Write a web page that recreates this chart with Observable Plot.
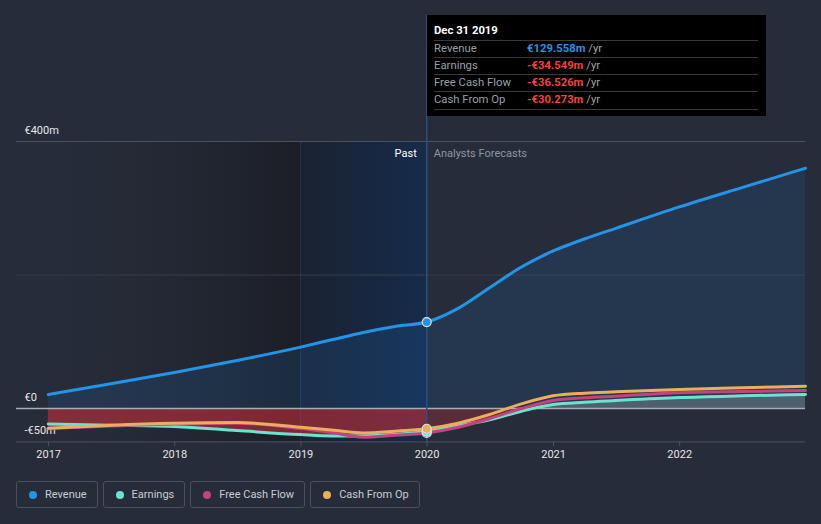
<!DOCTYPE html>
<html>
<head>
<meta charset="utf-8">
<script src="https://cdn.jsdelivr.net/npm/d3@7"></script>
<script src="https://cdn.jsdelivr.net/npm/@observablehq/plot@0.6"></script>
<style>
  html, body { margin: 0; padding: 0; background: #262c39; }
  body { font-family: Roboto, "Open Sans", sans-serif; }
  #wrap { position: relative; width: 821px; height: 524px; overflow: hidden; }
  #tip { position: absolute; left: 427px; top: 15px; width: 339px; height: 101px; background: #000; color: #fff; font-size: 11.3px; }
  #tip .title { position: absolute; left: 7px; top: 9px; line-height: 14px; font-weight: bold; }
  #tip .row { position: absolute; left: 7px; width: 324px; height: 17px; border-top: 1px solid #3a3a3a; line-height: 16px; color: #9aa0a6; }
  #tip .row.last { border-bottom: 1px solid #3a3a3a; }
  #tip .val { position: absolute; left: 93px; top: 0; font-weight: bold; }
  #tip .unit { color: #a0a4aa; font-weight: normal; }
  #legend { position: absolute; left: 16px; top: 481px; display: flex; gap: 5px; }
  .item { box-sizing: border-box; height: 27px; border: 1px solid #4a5060; border-radius: 3px; padding: 0 10px 0 12px; display: flex; align-items: center; color: #c9cdd3; font-size: 11px; }
  .dot { width: 8px; height: 8px; border-radius: 50%; margin-right: 8px; }
</style>
</head>
<body>
<div id="wrap"></div>
<script>
// ---- data ----
const dates = ["2016-12-31","2017-06-30","2017-12-31","2018-06-30","2018-12-31","2019-03-31","2019-06-30","2019-09-30","2019-12-31",
               "2020-03-31","2020-06-30","2020-09-30","2020-12-31","2021-03-31","2021-06-30","2021-12-31","2022-06-30","2022-12-31"];
const revenue  = [21, 37, 54, 72, 92, 103, 114, 123, 129.558, 150, 181, 212, 236, 254, 270, 302, 331, 360];
const earnings = [-23, -25, -27, -33, -39, -41, -41, -39, -34.549, -26, -17, -4, 6, 9.5, 12, 16.5, 19, 21];
const fcf      = [-30, -26, -23, -22, -30, -36, -43, -40, -36.526, -28, -15, 0, 12, 16, 18.5, 23.5, 25.5, 27];
const cfo      = [-29.5, -25, -22, -21, -28, -32, -36.5, -34, -30.273, -22, -9, 7, 19, 23, 25, 28.5, 31, 33.5];
const pastEndIndex = 8;
const yTicks = [400, 0, -50];
const yTickLabels = ["€400m", "€0", "-€50m"];
const xTickYears = [2017, 2018, 2019, 2020, 2021, 2022];
const seriesNames = ["Revenue", "Earnings", "Free Cash Flow", "Cash From Op"];
const seriesColors = ["#2394e6", "#6be3d0", "#c4437f", "#eaae5c"];
const tipTitle = "Dec 31 2019";
const tipValues = ["€129.558m", "-€34.549m", "-€36.526m", "-€30.273m"];

// ---- build ----
const parse = d3.utcParse("%Y-%m-%d");
const rows = dates.map((d, i) => ({date: parse(d), revenue: revenue[i], earnings: earnings[i], fcf: fcf[i], cfo: cfo[i]}));
const past = rows.slice(0, pastEndIndex + 1);
const fut = rows.slice(pastEndIndex);
const xStart = parse("2016-09-30"), xEnd = parse("2022-12-31");
const pastStart = parse("2018-12-31"), nowDate = parse("2019-12-31");
const last = rows[pastEndIndex];

const W = 821, H = 470;
const svg = Plot.plot({
  width: W, height: H,
  marginLeft: 16, marginRight: 16, marginTop: 15, marginBottom: 28.6,
  style: {background: "transparent", fontFamily: "Roboto, sans-serif", color: "#e6e6e6", overflow: "visible"},
  x: {type: "utc", domain: [xStart, xEnd]},
  y: {domain: [-50, 588.8], axis: null},
  marks: [
    Plot.rect([0], {x1: () => xStart, x2: () => pastStart, y1: () => -50, y2: () => 400, fill: "url(#darkGrad)"}),
    Plot.rect([0], {x1: () => pastStart, x2: () => nowDate, y1: () => -50, y2: () => 400, fill: "url(#blueGrad)"}),
    Plot.ruleX([pastStart], {y1: -50, y2: 400, stroke: "#26355a", strokeWidth: 1}),
    Plot.ruleY([200], {stroke: "#363c48", strokeWidth: 1}),
    Plot.ruleY([400], {stroke: "#4d5361", strokeWidth: 1}),
    Plot.ruleY([-50], {stroke: "#4d5361", strokeWidth: 1}),
    Plot.areaY(rows, {x: "date", y1: 0, y2: "revenue", fill: "#1e78c8", fillOpacity: 0.16, curve: "monotone-x"}),
    Plot.areaY(past, {x: "date", y1: 0, y2: d => Math.min(d.earnings, d.fcf, d.cfo, 0), fill: "#d82f3a", fillOpacity: 0.52, curve: "monotone-x"}),
    Plot.areaY(fut, {x: "date", y1: 0, y2: d => Math.min(d.earnings, 0), fill: "#e02f3a", fillOpacity: 0.28, curve: "monotone-x"}),
    Plot.areaY(fut, {x: "date", y1: 0, y2: d => Math.max(d.earnings, 0), fill: "#ffffff", fillOpacity: 0.2, curve: "monotone-x"}),
    Plot.ruleY([0], {stroke: "#a9adb4", strokeWidth: 1.5}),
    Plot.ruleX([nowDate], {stroke: "#2c4f80", strokeWidth: 1.5}),
    Plot.axisX({ticks: xTickYears.map(y => new Date(Date.UTC(y, 0, 1))), tickFormat: d3.utcFormat("%Y"), tickSize: 5, tickPadding: 3, stroke: "#4d5361", fill: "#e6e6e6", fontSize: 11, label: null}),
    Plot.text(yTicks, {x: () => xStart, y: d => d, text: (d, i) => yTickLabels[i], dx: 8, dy: -11, textAnchor: "start", fill: "#e8e8e8", fontSize: 11}),
    Plot.text(["Past"], {x: () => nowDate, y: () => 400, dx: -10, dy: 12, textAnchor: "end", fill: "#ffffff", fontSize: 11}),
    Plot.text(["Analysts Forecasts"], {x: () => nowDate, y: () => 400, dx: 7, dy: 12, textAnchor: "start", fill: "#8f96a0", fontSize: 11}),
    Plot.lineY(rows, {x: "date", y: "earnings", stroke: seriesColors[1], strokeWidth: 3, curve: "monotone-x"}),
    Plot.lineY(rows, {x: "date", y: "fcf", stroke: seriesColors[2], strokeWidth: 3, curve: "monotone-x"}),
    Plot.lineY(rows, {x: "date", y: "cfo", stroke: seriesColors[3], strokeWidth: 3, curve: "monotone-x"}),
    Plot.lineY(rows, {x: "date", y: "revenue", stroke: seriesColors[0], strokeWidth: 3, curve: "monotone-x"}),
    Plot.dot([last], {x: "date", y: "fcf", r: 4.5, fill: seriesColors[2], stroke: "#dde3ee", strokeWidth: 1.2}),
    Plot.dot([last], {x: "date", y: "earnings", r: 4.5, fill: seriesColors[1], stroke: "#dde3ee", strokeWidth: 1.2}),
    Plot.dot([last], {x: "date", y: "cfo", r: 4.5, fill: seriesColors[3], stroke: "#dde3ee", strokeWidth: 1.2}),
    Plot.dot([last], {x: "date", y: "revenue", r: 4.5, fill: seriesColors[0], stroke: "#dde3ee", strokeWidth: 1.2})
  ]
});

const defs = d3.select(svg).insert("defs", ":first-child");
const dg = defs.append("linearGradient").attr("id", "darkGrad").attr("x1", 0).attr("x2", 1).attr("y1", 0).attr("y2", 0);
dg.append("stop").attr("offset", "0%").attr("stop-color", "#262c39").attr("stop-opacity", 0);
dg.append("stop").attr("offset", "100%").attr("stop-color", "#1b1e26").attr("stop-opacity", 1);
const bg = defs.append("linearGradient").attr("id", "blueGrad").attr("x1", 0).attr("x2", 1).attr("y1", 0).attr("y2", 0);
bg.append("stop").attr("offset", "0%").attr("stop-color", "#1b2232");
bg.append("stop").attr("offset", "100%").attr("stop-color", "#162b4b");

const wrap = document.getElementById("wrap");
wrap.appendChild(svg);

// tooltip
const tip = document.createElement("div");
tip.id = "tip";
let html = `<div class="title">${tipTitle}</div>`;
seriesNames.forEach((n, i) => {
  const color = i === 0 ? "#2394e6" : "#f0443c";
  html += `<div class="row${i === seriesNames.length - 1 ? " last" : ""}" style="top:${25 + i * 17}px">${n}<span class="val" style="color:${color}">${tipValues[i]} <span class="unit">/yr</span></span></div>`;
});
tip.innerHTML = html;
wrap.appendChild(tip);

// legend
const legend = document.createElement("div");
legend.id = "legend";
seriesNames.forEach((n, i) => {
  const it = document.createElement("div");
  it.className = "item";
  it.innerHTML = `<span class="dot" style="background:${seriesColors[i]}"></span>${n}`;
  legend.appendChild(it);
});
wrap.appendChild(legend);
</script>
</body>
</html>
